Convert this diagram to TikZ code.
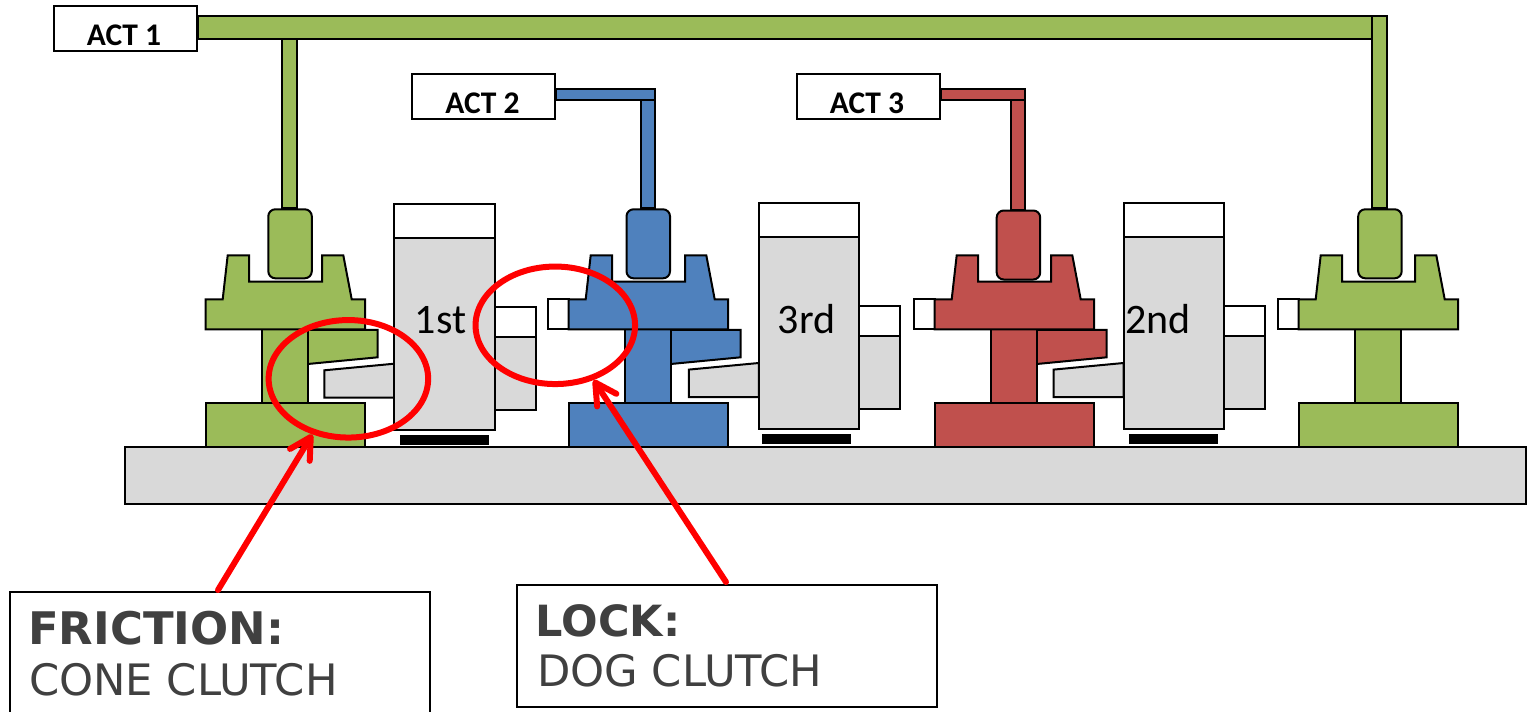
\documentclass[tikz,border=0pt]{standalone}
\usepackage{fontspec}
\setmainfont{Carlito}
\newfontfamily\dejavu{DejaVu Sans}
\usetikzlibrary{shapes.geometric,arrows.meta,calc}
\definecolor{gr}{HTML}{9BBB59}
\definecolor{bl}{HTML}{4F81BD}
\definecolor{rd}{HTML}{C0504D}
\definecolor{lg}{HTML}{D9D9D9}
\definecolor{tx}{HTML}{404040}
\tikzset{
  part/.style={draw=black,line width=2pt,line join=miter},
  actbox/.style={draw=black,fill=white,line width=2pt,minimum width=143pt,minimum height=45.5pt,inner sep=0pt,anchor=north west},
  padbox/.style={draw=black,line width=2pt,rounded corners=7pt,minimum width=43.5pt,minimum height=69pt,inner sep=0pt,anchor=north west},
  acttext/.style={font=\fontsize{31.5}{33}\selectfont\bfseries,anchor=base,inner sep=0pt,text=black},
  geartext/.style={font=\fontsize{42}{44}\selectfont,anchor=base,inner sep=0pt,text=black},
  notebox/.style={draw=black,fill=white,line width=2pt,inner sep=0pt,anchor=north west,minimum width=420pt},
  notehead/.style={font=\dejavu\fontsize{43}{45}\selectfont\bfseries,text=tx,anchor=base west,inner sep=0pt},
  notebody/.style={font=\dejavu\fontsize{43.3}{45}\selectfont,text=tx,anchor=base west,inner sep=0pt},
  ring/.style={ellipse,draw=red,line width=6pt,minimum width=159.5pt,minimum height=117.5pt,inner sep=0pt},
  pointer/.style={draw=red,line width=6pt,line cap=round,-{Straight Barb[length=21pt,width=23pt,round]}}
}
\newcommand{\hubbody}[2]{% dx, colour
  \begin{scope}[shift={(#1,0)}]
    \draw[part,fill=#2] (262.3,329.3) rectangle (307.7,403.3);
    \draw[part,fill=#2] (205.7,403.3) rectangle (365,446.7);
    \draw[part,fill=#2] (205.7,329.3) -- (205.7,299.3) -- (222.7,299.3) -- (227.7,255.3) -- (249,255.3) -- (249,281.7) -- (322,281.7) -- (322,255.3) -- (343.3,255.3) -- (351.7,299.3) -- (365,299.3) -- (365,329.3) -- cycle;
  \end{scope}}
\newcommand{\hubcone}[2]{% dx, colour
  \begin{scope}[shift={(#1,0)}]
    \draw[part,fill=#2] (307.7,329.8) -- (377.7,329.8) -- (377.7,357.3) -- (307.7,364) -- cycle;
  \end{scope}}
\newcommand{\hubtab}[1]{% dx
  \begin{scope}[shift={(#1,0)}]
    \draw[part,fill=white] (185,299.3) rectangle (205.7,329.3);
  \end{scope}}
\newcommand{\gearbody}[2]{% dx, dy
  \begin{scope}[shift={(#1,#2)}]
    \draw[part,fill=lg] (394.3,363.7) -- (324.3,370.3) -- (324.3,397.7) -- (394.3,397.7) -- cycle;
    \draw[part,fill=lg] (494.7,336.7) rectangle (535.7,410);
    \draw[part,fill=white] (494.7,306.7) rectangle (535.7,336.7);
    \draw[part,fill=lg] (394.3,237.7) rectangle (494.7,430);
    \draw[part,fill=white] (394.3,203.7) rectangle (494.7,237.7);
  \end{scope}}
\newcommand{\gearbar}[2]{% dx, dy
  \fill[black,shift={(#1,#2)}] (400,435) rectangle (489,445);}
\begin{document}
\begin{tikzpicture}[x=1pt,y=-1pt]
\useasboundingbox (0,0) rectangle (1527,712);
% base
\draw[part,fill=lg] (124.5,447) rectangle (1526,503.5);
% actuator boxes and slider pads
\node[actbox] (act1) at (52.5,4.8) {};
\node[actbox] (act2) at (411,72.7) {};
\node[actbox] (act3) at (795.5,72.7) {};
\node[padbox,fill=gr] (pad1) at (267.3,208.3) {};
\node[padbox,fill=bl] (pad2) at (625.5,208.3) {};
\node[padbox,fill=rd] (pad3) at (995.7,209.5) {};
\node[padbox,fill=gr] (pad4) at (1357.2,208.3) {};
% rods
\draw[part,fill=gr] (282,38.7) rectangle (296.5,0 |- pad1.north);
\draw[part,fill=gr] (act1.east |- 0,15.7) rectangle (1372,38.7);
\draw[part,fill=gr] (1372,15.7) rectangle (1386.7,0 |- pad4.north);
\draw[part,fill=bl] (640.6,100) rectangle (654.5,0 |- pad2.north);
\draw[part,fill=bl] (act2.east |- 0,89) rectangle (654.5,100);
\draw[part,fill=rd] (1010.6,100) rectangle (1025,0 |- pad3.north);
\draw[part,fill=rd] (act3.east |- 0,89) rectangle (1025,100);
\node[acttext] (t1) at (124,45.3) {ACT 1};
\node[acttext] (t2) at (482.5,113.2) {ACT 2};
\node[acttext] (t3) at (867,113.2) {ACT 3};
% hubs
\hubcone{0}{gr}\hubbody{0}{gr}
\hubcone{363}{bl}\hubtab{363}\hubbody{363}{bl}
\hubcone{729}{rd}\hubtab{729}\hubbody{729}{rd}
\hubtab{1093}\hubbody{1093}{gr}
% gears
\gearbody{0}{0}\gearbar{0}{0}
\gearbody{364.5}{-0.7}\gearbar{362.3}{-1.3}
\gearbody{729.3}{-0.7}\gearbar{729}{-1.3}
\node[geartext] (g1) at (440.5,333.8) {1st};
\node[geartext] (g3) at (806.7,333) {3rd};
\node[geartext] (g2) at (1157.8,333) {2nd};
% notes
\node[notebox,minimum height=125pt] (friction) at (8.5,591) {};
\node[notebox,minimum height=122.5pt] (lock) at (516,583.5) {};
\node[notehead,font=\dejavu\fontsize{44.9}{46}\selectfont\bfseries] (fh) at (28,644) {FRICTION:};
\node[notebody] (fb) at (29,695) {CONE CLUTCH};
\node[notehead] (lh) at (535.5,636) {LOCK:};
\node[notebody] (lb) at (537,686.7) {DOG CLUTCH};
% rings and pointers
\node[ring] (ring1) at (348.4,378.8) {};
\node[ring] (ring2) at (555.3,325.3) {};
\coordinate (fs) at (218,590);
\coordinate (ls) at (726,582);
\draw[pointer] (fs) -- (ring1.237);
\draw[pointer] (ls) -- (ring2.305);
\end{tikzpicture}
\end{document}
